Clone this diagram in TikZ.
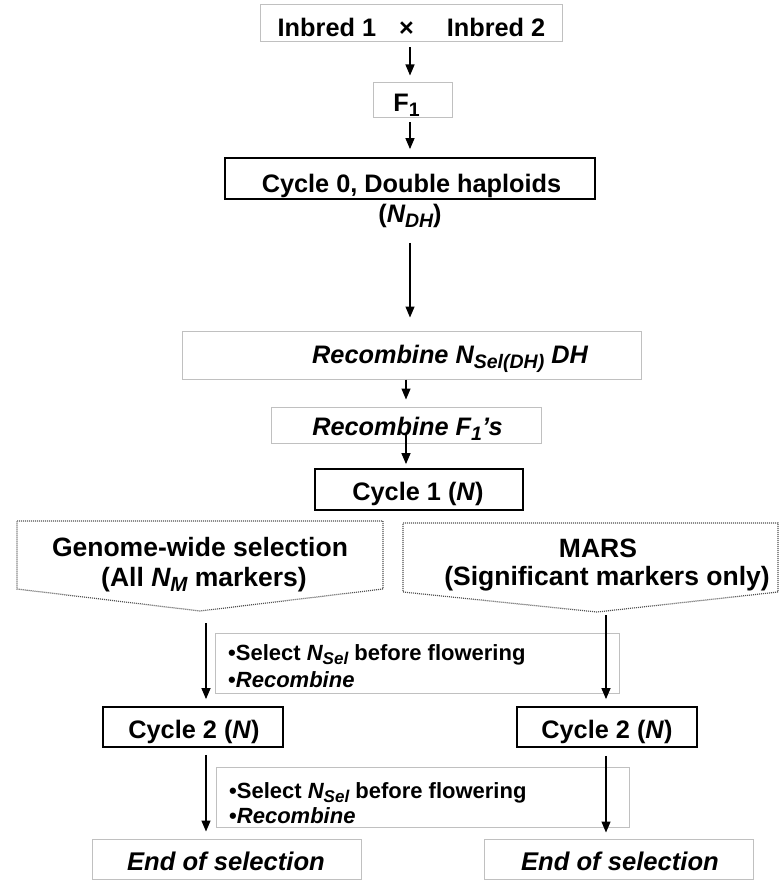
\documentclass[tikz,border=0pt]{standalone}
\usepackage{fontspec}
\setmainfont{Liberation Sans}
\usetikzlibrary{arrows.meta,calc}
\definecolor{boxgray}{RGB}{192,192,192}
\definecolor{dotgray}{RGB}{80,80,80}
\newcommand\lsub[1]{\raisebox{-5pt}{\fontsize{19.5}{20}\selectfont #1}}
\newcommand\psub[1]{\raisebox{-5.5pt}{\fontsize{20.5}{21}\selectfont #1}}
\newcommand\nsub[1]{\raisebox{-4.5pt}{\fontsize{17}{18}\selectfont #1}}
\tikzset{
  gbox/.style={draw=boxgray, line width=1pt, inner sep=0pt},
  bbox/.style={draw=black, line width=1.8pt, inner sep=0pt},
  sz/.style 2 args={minimum width=#1 pt, minimum height=#2 pt},
  txt/.style={font=\fontsize{25.3}{30}\selectfont\bfseries, inner sep=0pt, anchor=base},
  ptxt/.style={font=\fontsize{26.5}{31}\selectfont\bfseries, inner sep=0pt, anchor=base},
  ntxt/.style={font=\fontsize{22}{26}\selectfont\bfseries, inner sep=0pt, anchor=base west},
  arr/.style={-{Triangle[length=11pt,width=9pt]}, line width=1.3pt},
  pent/.style={draw=dotgray, line width=1.2pt, dash pattern=on 1pt off 1pt},
}
\begin{document}
\begin{tikzpicture}[x=1pt,y=-1pt]
\useasboundingbox (0,0) rectangle (781,880);
% boxes
\node[gbox, sz={302}{37}] (inb) at (411,23.5) {};
\node[txt] (inbT) at (411.5,37) {Inbred 1\hspace{23pt}×\hspace{33pt}Inbred 2};
\node[gbox, sz={79}{35}] (f1) at (412.5,100.5) {};
\node[txt] (f1T) at (406.5,112) {F\lsub{1}};
\node[bbox, sz={370}{41}] (c0) at (410,178.5) {};
\node[txt] (c0T) at (411.5,192) {Cycle 0, Double haploids};
\node[txt] (ndh) at (410,222) {(\textit{N\lsub{DH}})};
\node[gbox, sz={459}{48}] (rdh) at (411.5,355) {};
\node[txt] (rdhT) at (450,363) {\itshape Recombine N\lsub{Sel(DH)} DH};
\node[gbox, sz={270}{36}] (rf1) at (406,425) {};
\node[txt] (rf1T) at (407.5,435) {\itshape Recombine F\lsub{1}’s};
\node[bbox, sz={208}{41}] (c1) at (419,489.5) {};
\node[txt] (c1T) at (418,500) {Cycle 1 (\textit{N})};
% pentagons
\draw[pent] (17,521) -- (383,521) -- (383,589) -- (200,611) -- (17,589) -- cycle;
\draw[pent] (403,523) -- (778,523) -- (778,592) -- (597,612) -- (403,592) -- cycle;
\coordinate (lpt) at (206,612);
\coordinate (rpt) at (606,612);
\node[ptxt] (gws1) at (200,556) {Genome-wide selection};
\node[ptxt] (gws2) at (204,586) {(All \textit{N\psub{M}} markers)};
\node[ptxt] (mars1) at (598,557) {MARS};
\node[ptxt] (mars2) at (607,585) {(Significant markers only)};
% notes
\node[gbox, sz={404}{60}] (n1) at (417,663) {};
\node[ntxt] (n1a) at (228,660) {•Select \textit{N\nsub{Sel}} before flowering};
\node[ntxt] (n1b) at (228,687) {•\textit{Recombine}};
\node[bbox, sz={180}{40}] (c2l) at (193,727) {};
\node[txt] (c2lT) at (194,738) {Cycle 2 (\textit{N})};
\node[bbox, sz={180}{40}] (c2r) at (607,727) {};
\node[txt] (c2rT) at (607,738) {Cycle 2 (\textit{N})};
\node[gbox, sz={413}{60}] (n2) at (422.5,797.5) {};
\node[ntxt] (n2a) at (229,798) {•Select \textit{N\nsub{Sel}} before flowering};
\node[ntxt] (n2b) at (229,823) {•\textit{Recombine}};
\node[gbox, sz={269}{40}] (el) at (226.5,859) {};
\node[txt, font=\fontsize{25.6}{30}\selectfont\bfseries] (elT) at (226,870) {\itshape End of selection};
\node[gbox, sz={269}{40}] (er) at (618.5,859) {};
\node[txt, font=\fontsize{25.6}{30}\selectfont\bfseries] (erT) at (620,870) {\itshape End of selection};
% connectors
\draw[arr, shorten <=5pt, shorten >=7pt] (c0.north |- inb.south) -- (c0.north |- f1.north);
\draw[arr, shorten <=4pt, shorten >=8pt] (c0.north |- f1.south) -- (c0.north);
\draw[arr, shorten <=43pt, shorten >=13pt] (c0.south) -- (c0.south |- rdh.north);
\draw[arr, shorten >=7pt] (rf1.north |- rdh.south) -- (rf1.north);
\draw[arr, shorten <=8pt, shorten >=4pt] (rf1.center) -- (rf1.center |- c1.north);
\draw[arr, shorten <=11pt, shorten >=7pt] (lpt) -- (lpt |- c2l.north);
\draw[arr, shorten <=3pt, shorten >=7pt] (rpt) -- (rpt |- c2r.north);
\draw[arr, shorten <=7pt, shorten >=7pt] (lpt |- c2l.south) -- (lpt |- el.north);
\draw[arr, shorten <=8pt, shorten >=6pt] (rpt |- c2r.south) -- (rpt |- er.north);
\end{tikzpicture}
\end{document}
